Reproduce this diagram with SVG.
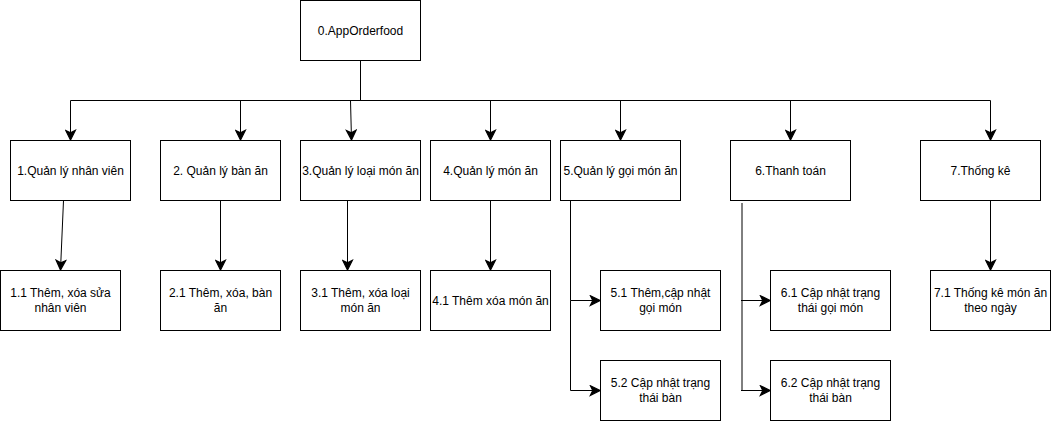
<svg xmlns="http://www.w3.org/2000/svg" width="1051" height="421" viewBox="0 0 1051 421">
<style>
.box{fill:#ffffff;stroke:#000000;stroke-width:1}
.lbl{font-family:"Liberation Sans",Arial,Helvetica,sans-serif;font-size:12px;fill:#000000;text-anchor:middle}
.edge{fill:none;stroke:#000000;stroke-width:1}
</style>
<defs>
<marker id="arr" markerUnits="userSpaceOnUse" markerWidth="12" markerHeight="12" viewBox="-9 -5 10 10" refX="0" refY="0" orient="auto">
<path d="M-8,-4 L0,0 L-8,4 L-6,0 Z" fill="#000000" stroke="#000000" stroke-width="1"/>
</marker>
</defs>
<rect width="1051" height="421" fill="#ffffff"/>
<g id="connectors">
<path class="edge" d="M360.5,60.5 V100.5 H70.5 V140" marker-end="url(#arr)"/>
<path class="edge" d="M360.5,100.5 H240.5 V140" marker-end="url(#arr)"/>
<path class="edge" d="M350.5,100.5 L351.5,140" marker-end="url(#arr)"/>
<path class="edge" d="M360.5,100.5 H490.5 V140" marker-end="url(#arr)"/>
<path class="edge" d="M360.5,100.5 H620.5 V140" marker-end="url(#arr)"/>
<path class="edge" d="M360.5,100.5 H790.5 V140" marker-end="url(#arr)"/>
<path class="edge" d="M360.5,100.5 H990.5 V140" marker-end="url(#arr)"/>
<path class="edge" d="M63.5,200.5 L60.5,270" marker-end="url(#arr)"/>
<path class="edge" d="M220.5,200.5 V270" marker-end="url(#arr)"/>
<path class="edge" d="M347.5,200.5 V270" marker-end="url(#arr)"/>
<path class="edge" d="M490.5,200.5 V270" marker-end="url(#arr)"/>
<path class="edge" d="M570.5,200.5 V300.5 H600" marker-end="url(#arr)"/>
<path class="edge" d="M570.5,300.5 V390.5 H600" marker-end="url(#arr)"/>
<path class="edge" d="M742,203 V391" stroke="#555555"/>
<path class="edge" d="M741,300.5 H770" marker-end="url(#arr)"/>
<path class="edge" d="M741,390.5 H770" marker-end="url(#arr)"/>
<path class="edge" d="M990.5,200.5 V270" marker-end="url(#arr)"/>
</g>
<g id="n0"><rect class="box" x="300.5" y="0.5" width="120" height="60"/><text class="lbl" x="360.5" y="34.5">0.AppOrderfood</text></g>
<g id="n1"><rect class="box" x="10.5" y="140.5" width="120" height="60"/><text class="lbl" x="70.5" y="174.5">1.Quản lý nhân viên</text></g>
<g id="n2"><rect class="box" x="160.5" y="140.5" width="120" height="60"/><text class="lbl" x="220.5" y="174.5">2. Quản lý bàn ăn</text></g>
<g id="n3"><rect class="box" x="300.5" y="140.5" width="120" height="60"/><text class="lbl" x="360.5" y="174.5">3.Quản lý loại món ăn</text></g>
<g id="n4"><rect class="box" x="430.5" y="140.5" width="120" height="60"/><text class="lbl" x="490.5" y="174.5">4.Quản lý món ăn</text></g>
<g id="n5"><rect class="box" x="560.5" y="140.5" width="120" height="60"/><text class="lbl" x="620.5" y="174.5">5.Quản lý gọi món ăn</text></g>
<g id="n6"><rect class="box" x="730.5" y="140.5" width="120" height="60"/><text class="lbl" x="790.5" y="174.5">6.Thanh toán</text></g>
<g id="n7"><rect class="box" x="920.5" y="140.5" width="120" height="60"/><text class="lbl" x="980.5" y="174.5">7.Thống kê</text></g>
<g id="n11"><rect class="box" x="0.5" y="270.5" width="120" height="60"/><text class="lbl" x="60.5" y="297">1.1 Thêm, xóa sửa</text><text class="lbl" x="60.5" y="311.5">nhân viên</text></g>
<g id="n21"><rect class="box" x="160.5" y="270.5" width="120" height="60"/><text class="lbl" x="220.5" y="297">2.1 Thêm, xóa, bàn</text><text class="lbl" x="220.5" y="311.5">ăn</text></g>
<g id="n31"><rect class="box" x="300.5" y="270.5" width="120" height="60"/><text class="lbl" x="360.5" y="297">3.1 Thêm, xóa loại</text><text class="lbl" x="360.5" y="311.5">món ăn</text></g>
<g id="n41"><rect class="box" x="430.5" y="270.5" width="120" height="60"/><text class="lbl" x="490.5" y="304.5">4.1 Thêm xóa món ăn</text></g>
<g id="n51"><rect class="box" x="600.5" y="270.5" width="120" height="60"/><text class="lbl" x="660.5" y="297">5.1 Thêm,cập nhật</text><text class="lbl" x="660.5" y="311.5">gọi món</text></g>
<g id="n52"><rect class="box" x="600.5" y="360.5" width="120" height="60"/><text class="lbl" x="660.5" y="387">5.2 Cập nhật trạng</text><text class="lbl" x="660.5" y="401.5">thái bàn</text></g>
<g id="n61"><rect class="box" x="770.5" y="270.5" width="120" height="60"/><text class="lbl" x="830.5" y="297">6.1 Cập nhật trạng</text><text class="lbl" x="830.5" y="311.5">thái gọi món</text></g>
<g id="n62"><rect class="box" x="770.5" y="360.5" width="120" height="60"/><text class="lbl" x="830.5" y="387">6.2 Cập nhật trạng</text><text class="lbl" x="830.5" y="401.5">thái bàn</text></g>
<g id="n71"><rect class="box" x="930.5" y="270.5" width="120" height="60"/><text class="lbl" x="990.5" y="297">7.1 Thống kê món ăn</text><text class="lbl" x="990.5" y="311.5">theo ngày</text></g>
</svg>
